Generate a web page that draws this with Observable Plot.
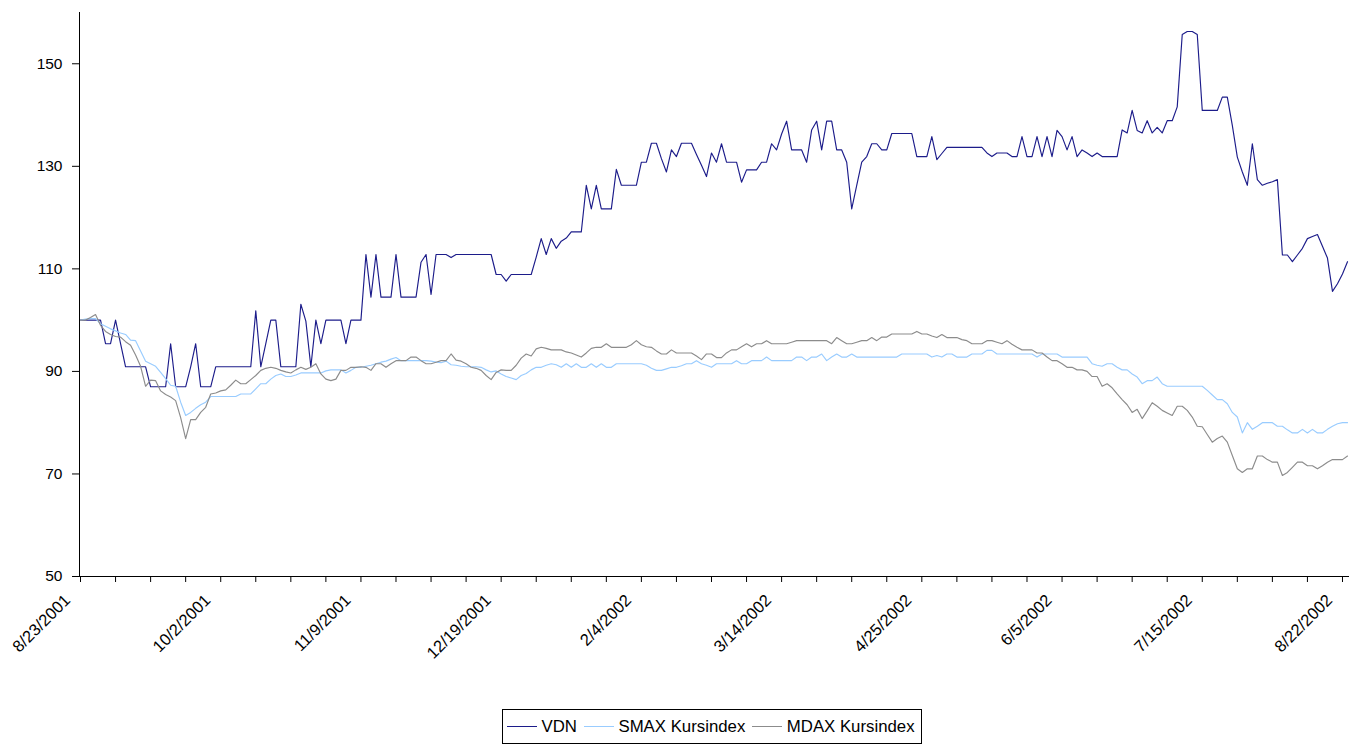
<!DOCTYPE html>
<html>
<head>
<meta charset="utf-8">
<script src="https://cdn.jsdelivr.net/npm/d3@7"></script>
<script src="https://cdn.jsdelivr.net/npm/@observablehq/plot@0.6"></script>
<style>
  html, body { margin: 0; padding: 0; background: #fff; }
  body { width: 1362px; height: 746px; position: relative; overflow: hidden; font-family: "Liberation Sans", Arial, sans-serif; }
  #chart { position: absolute; left: 0; top: 0; }
  #legend { position: absolute; left: 502px; top: 709px; width: 414px; height: 33px; border: 1px solid #000;
            display: flex; align-items: center; font-size: 16.8px; color: #000; box-sizing: content-box; padding-left: 4px; }
  .sw { display: inline-block; width: 30px; height: 0; border-top: 1.3px solid; margin-right: 4.5px; }
  .it { display: flex; align-items: center; margin-right: 7px; white-space: nowrap; }
</style>
</head>
<body>
<div id="chart"></div>
<div id="legend"></div>
<script>
// ---- data ----
const seriesNames = ["VDN", "SMAX Kursindex", "MDAX Kursindex"];

const vdn = [
100,100,100,100,100,95.4,95.4,100,95.4,90.9,
90.9,90.9,90.9,90.9,87,87,87,87,95.4,87,
87,87,90.9,95.4,87,87,87,90.9,90.9,90.9,
90.9,90.9,90.9,90.9,90.9,101.8,90.9,95.4,100,100,
90.9,90.9,90.9,90.9,103.1,99.8,90.9,100,95.4,100,
100,100,100,95.4,100,100,100,112.8,104.5,112.8,
104.5,104.5,104.5,112.8,104.5,104.5,104.5,104.5,111.3,112.8,
105,112.8,112.8,112.8,112.2,112.8,112.8,112.8,112.8,112.8,
112.8,112.8,112.8,108.9,108.9,107.6,108.9,108.9,108.9,108.9,
108.9,112.3,115.9,112.8,115.9,114,115.4,116,117.2,117.2,
117.2,126.3,121.7,126.3,121.7,121.7,121.7,129.4,126.3,126.3,
126.3,126.3,130.8,130.8,134.5,134.5,131.5,128.9,133.2,131.9,
134.5,134.5,134.5,132.3,130.2,128,132.6,130.8,134.4,130.8,
130.8,130.8,126.9,129.3,129.3,129.3,130.8,130.8,134.4,133.2,
136.3,138.8,133.2,133.2,133.2,130.8,137.1,138.8,133.2,138.8,
138.8,133.2,133.2,130.8,121.7,126.3,130.8,131.9,134.4,134.4,
133.2,133.2,136.4,136.4,136.4,136.4,136.4,131.9,131.9,131.9,
135.8,131.3,132.5,133.7,133.7,133.7,133.7,133.7,133.7,133.7,
133.7,132.6,131.9,132.6,132.6,132.6,131.9,131.9,135.8,131.9,
131.9,135.8,131.9,135.8,131.9,137,135.8,133.2,135.8,131.9,
133.2,132.6,131.9,132.6,131.9,131.9,131.9,131.9,137.1,136.5,
140.9,137,136.5,138.9,136.5,137.6,136.5,138.9,138.9,141.6,
155.7,156.3,156.3,155.7,140.9,140.9,140.9,140.9,143.5,143.5,
138,131.8,128.9,126.3,134.4,127.4,126.3,126.7,127,127.4,
112.7,112.7,111.4,112.7,114,115.9,116.3,116.7,114.4,112.1,
105.6,107.1,109,111.4
];

const smax = [
100,100.2,100.3,100.3,99.3,98.8,98.3,97.9,97.5,97.2,
96.1,96,94,92,91.5,91,89.8,88.6,87.3,87.1,
84,81.4,82,82.8,83.5,84,85.1,85.1,85.1,85.1,
85.1,85.1,85.6,85.6,85.6,86.6,87.6,87.6,88.5,89.2,
89.5,89,89,89.3,89.7,89.7,89.7,89.7,89.7,90.1,
90.3,90.3,90.3,89.7,90.2,90.8,90.8,91,91.2,91.5,
91.8,92,92.4,92.7,92.1,92.1,92.1,92.1,92.1,92.1,
92,91.8,91.7,92,91.3,91.2,91,90.9,90.9,90.9,
90.8,90.3,89.9,90.1,89.5,89,88.7,88.4,89.2,89.6,
90.3,90.8,90.8,91.2,91.5,91.3,90.8,91.5,90.8,91.5,
90.8,90.8,91.5,90.8,91.5,90.8,90.8,91.5,91.5,91.5,
91.5,91.5,91.5,91.2,90.6,90.2,90.2,90.5,90.8,90.8,
91.1,91.5,91.5,92.1,91.5,91.2,90.8,91.5,91.5,91.5,
91.5,92.1,91.5,91.5,92.1,92.1,92.1,92.8,92.1,92.1,
92.1,92.1,92.1,92.8,92.8,92.1,92.8,92.8,93.4,92.1,
92.8,93.4,92.8,92.8,93.4,92.8,92.8,92.8,92.8,92.8,
92.8,92.8,92.8,92.8,93.4,93.4,93.4,93.4,93.4,93.4,
92.8,93.1,92.8,93.4,93.4,92.8,92.8,92.8,93.4,93.4,
93.4,94.1,94.1,93.4,93.4,93.4,93.4,93.4,93.4,93.4,
93.4,92.8,93.4,93.4,93.4,93.4,92.8,92.8,92.8,92.8,
92.8,92.8,91.5,91.2,91,91.5,91.5,90.8,90.3,90.3,
89.5,88.9,87.6,88.2,88.2,88.9,87.6,87.1,87.1,87.1,
87.1,87.1,87.1,87.1,87.1,86.3,85.4,84.5,84.5,83.7,
82,81.1,78,80,78.7,79.3,80,80,80,79.3,
79.3,78.6,78,78,78.7,78,78.7,78,78,78.7,
79.3,79.8,80,80
];

const mdax = [
100,100,100.5,101.1,99,97.8,97.2,96.8,96.7,95.8,
95.1,93.2,91,87.1,88.3,88.2,86.2,85.5,85,84.3,
81,76.9,80.6,80.6,82,83,85.6,85.8,86.2,86.4,
87.3,88.3,87.6,87.6,88.4,89.2,90.2,90.6,90.8,90.6,
90.2,89.9,89.7,90.3,90.8,90.4,90.8,91.5,89.5,88.5,
88.2,88.5,90.2,90.2,90.8,90.8,90.9,90.8,90.2,91.5,
91.5,90.8,91.5,92.1,92.1,92.1,92.8,92.8,92.1,91.5,
91.5,91.8,92.1,92.1,93.4,92.2,92,91.5,90.8,90.6,
90.2,89.2,88.4,89.8,90.3,90.2,90.2,91.2,92.6,93.4,
93,94.4,94.7,94.5,94.2,94.2,94.2,93.8,93.6,93.2,
92.8,93.6,94.5,94.7,94.7,95.4,94.7,94.7,94.7,94.7,
95.2,96,95.2,94.8,94.7,94,93.4,93.4,94.2,93.6,
93.6,93.6,93.6,93,92.3,93.4,93.4,92.7,92.7,93.6,
94.2,94.2,94.8,95.4,94.8,95.4,95.4,96,95.4,95.4,
95.4,95.4,95.7,96,96,96,96,96,96,96,
95.4,96.6,96,95.4,95.4,95.7,96,96,96.6,96,
96.7,96.7,97.3,97.3,97.3,97.3,97.3,97.8,97.3,97.3,
96.9,96.6,97.2,96.6,96.6,96.6,96.2,96,95.4,95.4,
95.4,96,96,95.7,95.4,96,95.3,94.7,94.2,94.2,
94.2,93.6,93.6,92.8,92.1,92.1,91.5,90.8,90.8,90.3,
90.3,90,89,89,87.1,87.6,86.8,85.6,84.5,83.5,
82,82.6,80.8,82.3,83.9,83.2,82.4,81.9,81.4,83.2,
83.2,82.4,81.1,79.3,79.2,77.7,76.2,76.9,77.4,76.2,
73.6,71,70.3,71,71,73.5,73.5,72.8,72.3,72.3,
69.7,70.3,71.3,72.3,72.3,71.6,71.6,71,71.6,72.3,
72.8,72.8,72.8,73.5
];

// category labels shown on the x axis (every 28th trading day)
const tickLabels = ["8/23/2001","10/2/2001","11/9/2001","12/19/2001","2/4/2002",
                    "3/14/2002","4/25/2002","6/5/2002","7/15/2002","8/22/2002"];
const labelStep = 28;   // trading days between labels
const tickStep = 7;     // trading days between tick marks
const yTicks = [50, 70, 90, 110, 130, 150];

// ---- styling ----
const colors = ["#1c1c8a", "#99ccff", "#8c8c8c"];
const font = '"Liberation Sans", Arial, sans-serif';

const valuesBySeries = [vdn, smax, mdax];
const rows = valuesBySeries.flatMap((vals, s) => vals.map((v, i) => ({i, v, series: seriesNames[s]})));
const n = vdn.length;
const labelIdx = tickLabels.map((_, k) => k * labelStep);
const tickIdx = d3.range(0, n, tickStep);

const chart = Plot.plot({
  width: 1362,
  height: 700,
  marginLeft: 79,
  marginRight: 13,
  marginTop: 12,
  marginBottom: 124,
  style: {fontFamily: font, fontSize: "15px", color: "#000", background: "#fff"},
  x: {domain: [-0.2, n - 0.6]},
  y: {domain: [50, 160]},
  color: {domain: seriesNames, range: colors},
  marks: [
    Plot.line(rows, {x: "i", y: "v", z: "series", stroke: "series", strokeWidth: 1.15}),
    Plot.ruleY([50], {stroke: "#000", strokeWidth: 1}),
    Plot.ruleX([-0.2], {stroke: "#000", strokeWidth: 1}),
    Plot.axisY({ticks: yTicks, tickSize: 7, tickPadding: 10, label: null, fontSize: 15.5}),
    Plot.axisX({ticks: tickIdx, tickSize: 6, tickFormat: () => "", label: null}),
    Plot.axisX({ticks: labelIdx, tickSize: 0, tickPadding: 14, tickRotate: -45, dx: -13, dy: 7,
                tickFormat: (d) => tickLabels[Math.round(d / labelStep)], label: null, fontSize: 16.5})
  ]
});
document.getElementById("chart").appendChild(chart);

// legend
const legend = document.getElementById("legend");
seriesNames.forEach((name, k) => {
  const it = document.createElement("span");
  it.className = "it";
  const sw = document.createElement("span");
  sw.className = "sw";
  sw.style.borderTopColor = colors[k];
  it.appendChild(sw);
  it.appendChild(document.createTextNode(name));
  legend.appendChild(it);
});
</script>
</body>
</html>
